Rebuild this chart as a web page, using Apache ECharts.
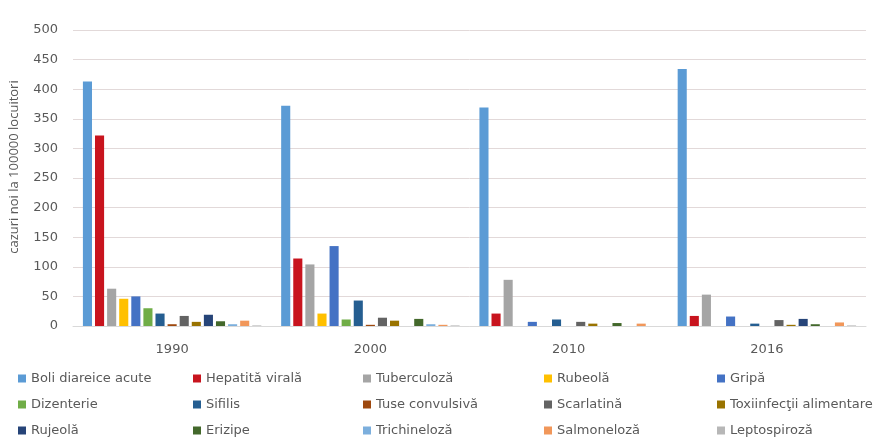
<!DOCTYPE html>
<html><head><meta charset="utf-8">
<script src="https://cdn.jsdelivr.net/npm/echarts@6/dist/echarts.min.js"></script>
<style>html,body{margin:0;padding:0;background:#fff}#c{width:889px;height:444px}</style>
</head><body><div id="c"></div>
<script>
const years = ['1990', '2000', '2010', '2016'];
const yTicks = [0, 50, 100, 150, 200, 250, 300, 350, 400, 450, 500];
const seriesNames = ['Boli diareice acute', 'Hepatită virală', 'Tuberculoză', 'Rubeolă', 'Gripă',
  'Dizenterie', 'Sifilis', 'Tuse convulsivă', 'Scarlatină', 'Toxiinfecţii alimentare',
  'Rujeolă', 'Erizipe', 'Trichineloză', 'Salmoneloză', 'Leptospiroză'];
const boli = [413, 372, 369, 434];
const hepatita = [322, 114, 21, 17];
const tuberculoza = [63, 104, 78, 53];
const rubeola = [46, 21, 0, 0];
const gripa = [50, 135, 7, 16];
const dizenterie = [30, 11, 0, 0];
const sifilis = [21, 43, 11, 4];
const tuse = [3, 2, 0, 0];
const scarlatina = [17, 14, 7, 10];
const toxiinfectii = [7, 9, 4, 2];
const rujeola = [19, 0, 0, 12];
const erizipe = [8, 12, 5, 3];
const trichineloza = [3, 3, 0, 0];
const salmoneloza = [9, 2, 4, 6];
const leptospiroza = [1, 1, 0, 1];
const values = [boli, hepatita, tuberculoza, rubeola, gripa, dizenterie, sifilis, tuse,
  scarlatina, toxiinfectii, rujeola, erizipe, trichineloza, salmoneloza, leptospiroza];
const colors = ['#5B9BD5', '#C8141E', '#A5A5A5', '#FFC000', '#4472C4', '#70AD47', '#255E91',
  '#9E480E', '#636363', '#997300', '#264478', '#43682B', '#7CAFDD', '#F1975A', '#B7B7B7'];

const FONT = 'DejaVu Sans';
const TXT = '#595959';
const legendLefts = [13, 188, 358, 539, 712];
const legends = legendLefts.map((l, i) => ({
  orient: 'vertical', left: l, top: 367, itemGap: 13,
  itemWidth: 8, itemHeight: 8, icon: 'rect',
  data: [seriesNames[i], seriesNames[i + 5], seriesNames[i + 10]],
  textStyle: { color: TXT, fontFamily: FONT, fontSize: 13 }
}));

const chart = echarts.init(document.getElementById('c'), null, { renderer: 'canvas' });
chart.setOption({
  animation: false,
  color: colors,
  textStyle: { fontFamily: FONT },
  legend: legends,
  grid: { left: 73, right: 23, top: 30, bottom: 118, containLabel: false },
  xAxis: {
    type: 'category', data: years,
    axisLine: { lineStyle: { color: '#D9D9D9', width: 1 } },
    axisTick: { show: false },
    axisLabel: { color: TXT, fontSize: 13, fontFamily: FONT, margin: 17 }
  },
  yAxis: {
    type: 'value', min: 0, max: 500, interval: 50,
    name: 'cazuri noi la 100000 locuitori', nameLocation: 'middle', nameGap: 52,
    nameTextStyle: { color: TXT, fontSize: 13, fontFamily: 'Open Sans', padding: [0, 0, 0, 22] },
    axisLine: { show: false }, axisTick: { show: false },
    axisLabel: { color: TXT, fontSize: 13, fontFamily: FONT, margin: 15 },
    splitLine: { lineStyle: { color: '#E2D9D9', width: 1 } }
  },
  series: seriesNames.map((n, i) => ({
    name: n, type: 'bar', data: values[i],
    barGap: '33%', barCategoryGap: '10%',
    itemStyle: { color: colors[i] }
  }))
});
</script></body></html>
